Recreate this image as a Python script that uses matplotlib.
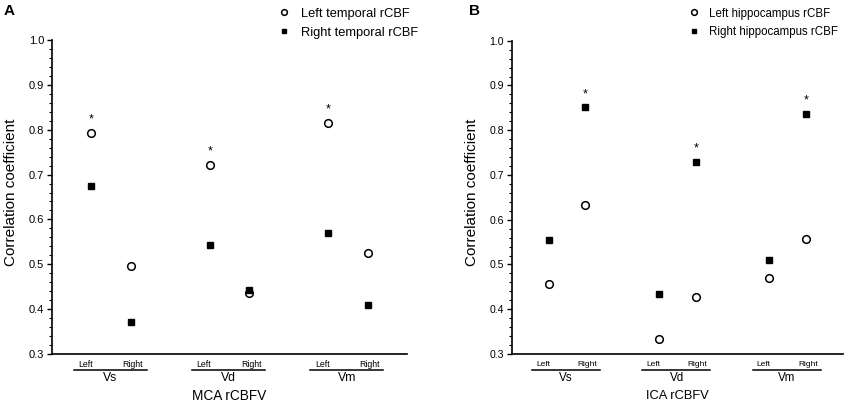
import matplotlib
matplotlib.use('Agg')
from matplotlib import pyplot as plt
from matplotlib import transforms
from matplotlib.ticker import MultipleLocator

plt.rcParams['font.family'] = ['Liberation Sans', 'DejaVu Sans']

# x positions of the six points: Left/Right for Vs, Vd, Vm
xpos = [0, 1, 3, 4, 6, 7]
groups = ['Vs', 'Vd', 'Vm']
sides = ['Left', 'Right']

# panel A: MCA rCBFV vs temporal rCBF
a_left = [0.793, 0.496, 0.721, 0.435, 0.816, 0.526]
a_right = [0.675, 0.371, 0.544, 0.443, 0.569, 0.410]
a_star_idx = [0, 2, 4]      # star over the left temporal point

# panel B: ICA rCBFV vs hippocampus rCBF
b_left = [0.456, 0.634, 0.334, 0.427, 0.470, 0.556]
b_right = [0.555, 0.851, 0.433, 0.730, 0.510, 0.836]
b_star_idx = [1, 3, 5]      # star over the right hippocampus point

W, H = 850, 409
fig = plt.figure(figsize=(8.5, 4.09), dpi=100)


def px_axes(l, r, t, b):
    return fig.add_axes([l / W, 1 - b / H, (r - l) / W, (b - t) / H])


def draw_panel(ax, left, right, star_idx, star_on, labs, xlabel, letter, letter_x,
               leg_x, leg_fs, ylab_x, k):
    ax.plot(xpos, left, 'o', ms=5.5, mfc='white', mec='black', mew=1.1, ls='none', label=labs[0])
    ax.plot(xpos, right, 's', ms=4.3, color='black', ls='none', label=labs[1])
    vals = left if star_on == 'left' else right
    for i in star_idx:
        ax.text(xpos[i], vals[i] + 0.03, '*', ha='center', va='center', fontsize=9)

    ax.set_xlim(-1, 8)
    ax.set_ylim(0.3, 1.0)
    ax.spines['top'].set_visible(False)
    ax.spines['right'].set_visible(False)
    ax.spines['left'].set_linewidth(1.2)
    ax.spines['bottom'].set_linewidth(1.2)
    ax.yaxis.set_major_locator(MultipleLocator(0.1))
    ax.yaxis.set_minor_locator(MultipleLocator(0.02))
    ax.set_yticklabels([f'{v:.1f}' for v in ax.get_yticks()])
    ax.tick_params(axis='y', which='major', length=3.5, width=1, labelsize=8 * k, pad=2)
    ax.tick_params(axis='y', which='minor', length=2, width=0.8)
    ax.set_xticks([])
    ax.set_ylabel('Correlation coefficient', fontsize=11)
    ax.yaxis.set_label_coords(ylab_x, 0.515)

    tr = transforms.blended_transform_factory(ax.transData, ax.transAxes)
    for g, name in enumerate(groups):
        x0 = xpos[2 * g]
        ax.text(x0 - 0.15, -0.032, sides[0], transform=tr, ha='center', va='center', fontsize=6.3 * k)
        ax.text(x0 + 1.05, -0.032, sides[1], transform=tr, ha='center', va='center', fontsize=6.3 * k)
        ax.plot([x0 - 0.45, x0 + 1.4], [-0.051, -0.051], transform=tr, color='black', lw=1.1, clip_on=False)
        ax.text(x0 + 0.48, -0.078, name, transform=tr, ha='center', va='center', fontsize=8.8 * k)
    ax.text(3.5, -0.133, xlabel, transform=tr, ha='center', va='center', fontsize=9.8 * k)

    fig.text(letter_x / W, 1 - 11 / H, letter, fontsize=11, fontweight='bold', ha='center', va='center')

    leg = ax.legend(loc='upper left', bbox_to_anchor=(leg_x / W, 1 - 7.5 / H),
                    bbox_transform=fig.transFigure, frameon=False, fontsize=leg_fs,
                    borderpad=0, borderaxespad=0, handlelength=1.0, handletextpad=0.85,
                    labelspacing=0.55, markerscale=0.75)
    return leg


ax_a = px_axes(52, 407, 40, 354)
draw_panel(ax_a, a_left, a_right, a_star_idx, 'left',
           ['Left temporal rCBF', 'Right temporal rCBF'], 'MCA rCBFV', 'A', 9,
           277.5, 9.3, -0.097, 1.0)

ax_b = px_axes(511.7, 843, 40.7, 354)
draw_panel(ax_b, b_left, b_right, b_star_idx, 'right',
           ['Left hippocampus rCBF', 'Right hippocampus rCBF'], 'ICA rCBFV', 'B', 474,
           688, 8.3, -0.099, 0.95)

fig.savefig('out.png', dpi=100)
